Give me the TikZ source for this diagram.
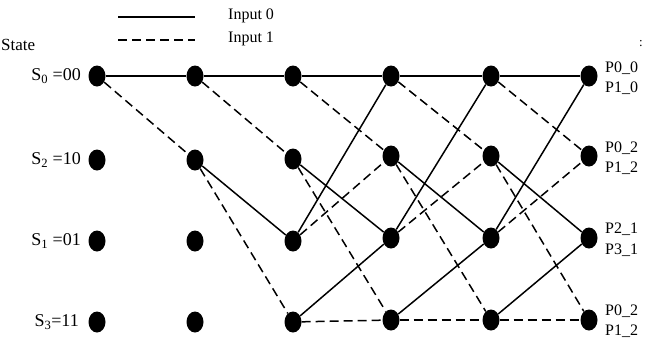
\documentclass[tikz,border=0pt]{standalone}
\usepackage{fontspec}
\setmainfont{Liberation Serif}
\usetikzlibrary{shapes.geometric}
\begin{document}
\begin{tikzpicture}[x=1pt,y=-1pt,
  st/.style={ellipse,fill=black,minimum width=17pt,minimum height=21pt,inner sep=0pt},
  zero/.style={line width=1.5pt},
  one/.style={line width=1.5pt,dash pattern=on 9pt off 5pt},
  lab/.style={font=\fontsize{18}{18}\selectfont,inner sep=0pt},
  leg/.style={font=\fontsize{16}{16}\selectfont,inner sep=0pt,anchor=west},
  plab/.style={font=\fontsize{16}{16}\selectfont,inner sep=0pt,anchor=west}]
\useasboundingbox (0,0) rectangle (656,343);
% legend
\coordinate (l0a) at (118,17); \coordinate (l0b) at (195,17);
\coordinate (l1a) at (118,40); \coordinate (l1b) at (195,40);
\draw[zero] (l0a) -- (l0b);
\draw[one] (l1a) -- (l1b);
\node[leg] (in0) at (228,16) {Input 0};
\node[leg] (in1) at (228,39) {Input 1};
\node[leg,font=\fontsize{17}{17}\selectfont] (state) at (1,45) {State};
\node[inner sep=0pt,font=\fontsize{13}{13}\selectfont] (colon) at (641,44) {:};
% state labels
\node[lab,anchor=east] (ls0) at (81,76) {S\textsubscript{0} =00};
\node[lab,anchor=east] (ls2) at (81,160) {S\textsubscript{2} =10};
\node[lab,anchor=east] (ls1) at (81,241) {S\textsubscript{1} =01};
\node[lab,anchor=east] (ls3) at (79,322) {S\textsubscript{3}=11};
% nodes
\foreach \c/\x in {1/97,2/195,3/293,4/391,5/491,6/589}{
  \node[st] (a\c) at (\x,76) {};
}
\foreach \c/\x/\y in {1/97/160,2/195/160,3/293/159,4/391/156,5/491/156,6/589/156}{
  \node[st] (b\c) at (\x,\y) {};
}
\foreach \c/\x/\y in {1/97/241,2/195/241,3/293/241,4/391/238,5/491/238,6/589/238}{
  \node[st] (c\c) at (\x,\y) {};
}
\foreach \c/\x/\y in {1/97/322,2/195/322,3/293/322,4/391/320,5/491/320,6/589/320}{
  \node[st] (d\c) at (\x,\y) {};
}
% a = S0 (00), b = S2 (10), c = S1 (01), d = S3 (11)
\draw[zero] (a1) -- (a2);
\draw[one] (a1) -- (b2);
\draw[zero] (a2) -- (a3);
\draw[one] (a2) -- (b3);
\draw[zero] (b2) -- (c3);
\draw[one] (b2) -- (d3);
\foreach \p/\n in {3/4,4/5,5/6}{
  \draw[zero] (a\p) -- (a\n);
  \draw[one] (a\p) -- (b\n);
  \draw[zero] (b\p) -- (c\n);
  \draw[one] (b\p) -- (d\n);
  \draw[zero] (c\p) -- (a\n);
  \draw[one] (c\p) -- (b\n);
  \draw[zero] (d\p) -- (c\n);
  \draw[one] (d\p) -- (d\n);
}
% right labels
\node[plab] (p00) at (605,68) {P0\_0};
\node[plab] (p10) at (605,88) {P1\_0};
\node[plab] (p02) at (605,148) {P0\_2};
\node[plab] (p12) at (605,168) {P1\_2};
\node[plab] (p21) at (605,229) {P2\_1};
\node[plab] (p31) at (605,250) {P3\_1};
\node[plab] (p02b) at (605,311) {P0\_2};
\node[plab] (p12b) at (605,331) {P1\_2};
\end{tikzpicture}
\end{document}
